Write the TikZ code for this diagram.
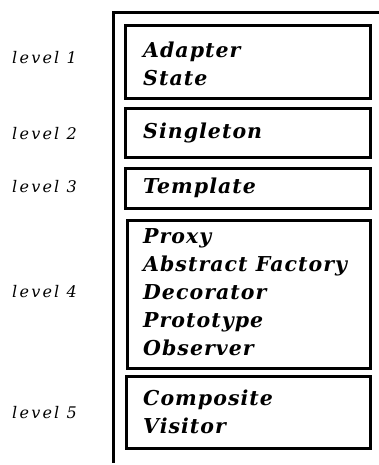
\documentclass[tikz,border=0pt]{standalone}
\usepackage{fontspec}
\setmainfont{DejaVu Serif}
\newfontfamily\lvlfont[LetterSpace=14]{DejaVu Serif}
\newfontfamily\itemfont[LetterSpace=5]{DejaVu Serif}
\begin{document}
\begin{tikzpicture}[x=1pt,y=-1pt,
  lvl/.style={font=\lvlfont\fontsize{16}{16}\selectfont\itshape, anchor=west, inner sep=0pt},
  boxx/.style={draw, line width=2.8pt, anchor=north west, inner sep=0pt},
  items/.style={font=\itemfont\fontsize{20.5}{28}\selectfont\bfseries\itshape, anchor=west, align=left, inner sep=0pt}]
\useasboundingbox (0,0) rectangle (379,465);
\coordinate (ftop) at (379,13);
\coordinate (fcorner) at (113,13);
\coordinate (fbot) at (113,463);
\draw[line width=3pt] (ftop) -- (fcorner) -- (fbot);
% boxes
\node[boxx, minimum width=245pt, minimum height=73pt] (b1) at (124,24) {};
\node[boxx, minimum width=245pt, minimum height=49pt] (b2) at (124,107) {};
\node[boxx, minimum width=245pt, minimum height=40pt] (b3) at (124,167) {};
\node[boxx, minimum width=243pt, minimum height=148pt] (b4) at (126,219) {};
\node[boxx, minimum width=244pt, minimum height=72pt] (b5) at (125,375) {};
% texts
\node[items] (t1) at (143,64) {Adapter\\State};
\node[items] (t2) at (143,133) {Singleton};
\node[items] (t3) at (143,188) {Template};
\node[items] (t4) at (143,292) {Proxy\\Abstract Factory\\Decorator\\Prototype\\Observer};
\node[items] (t5) at (143,412) {Composite\\Visitor};
% level labels
\node[lvl] (l1) at (12,58) {level 1};
\node[lvl] (l2) at (12,134) {level 2};
\node[lvl] (l3) at (12,187) {level 3};
\node[lvl] (l4) at (12,292) {level 4};
\node[lvl] (l5) at (12,413) {level 5};
\end{tikzpicture}
\end{document}
